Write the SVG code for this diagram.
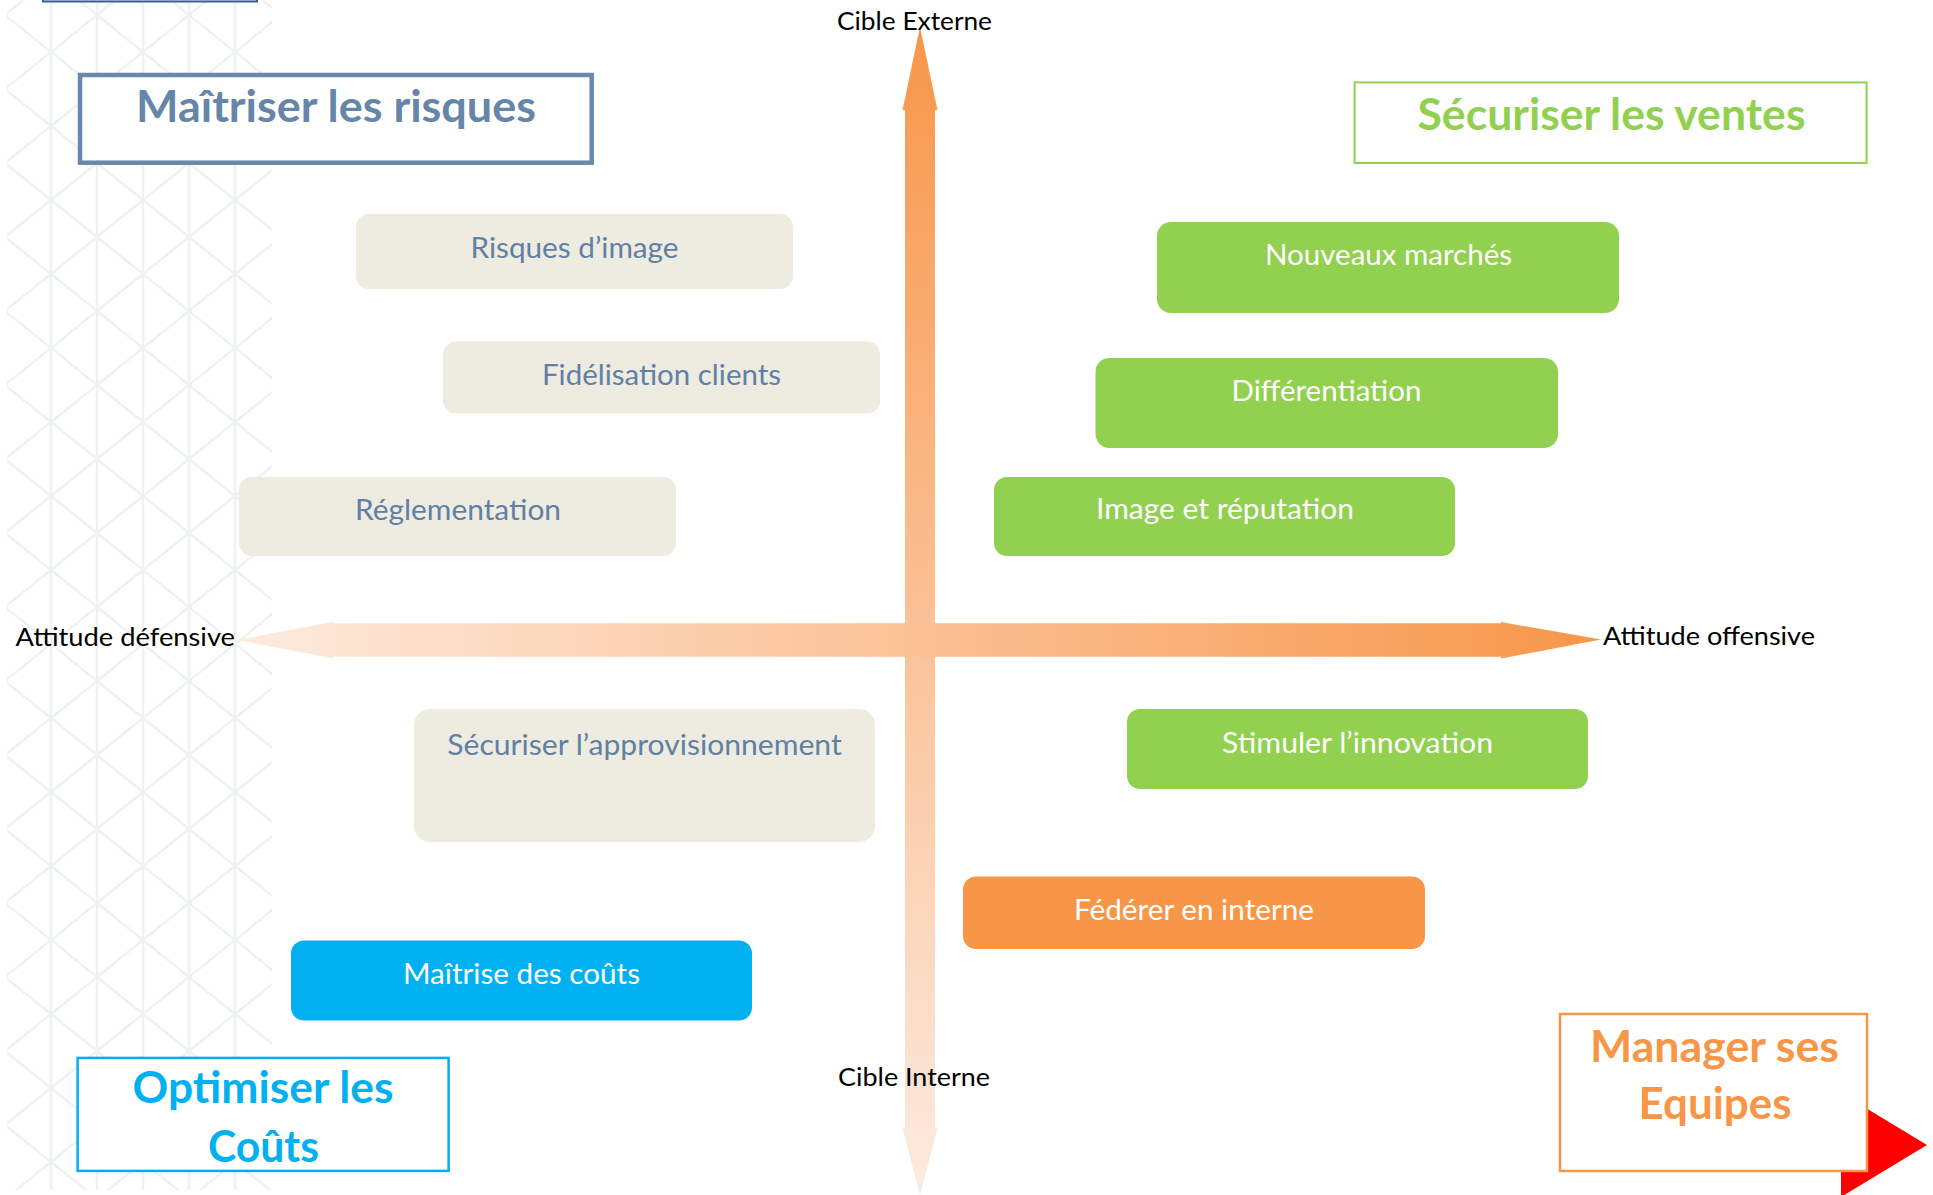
<svg xmlns="http://www.w3.org/2000/svg" width="1933" height="1195" viewBox="0 0 1933 1195">
<defs>
<style>
.nt{font-family:Lato,"Open Sans","Liberation Sans",sans-serif;font-size:28px;text-anchor:middle}
.ttl{font-family:Lato,"Open Sans","Liberation Sans",sans-serif;font-size:43px;font-weight:bold;text-anchor:middle}
.ax{font-family:Lato,"Open Sans","Liberation Sans",sans-serif;font-size:25px;fill:#000}
.beige rect{fill:#eeebe0}
.beige text{fill:#6080a5}
.green rect{fill:#92d050}
.white{fill:#ffffff}
</style>
<pattern id="lattice" patternUnits="userSpaceOnUse" x="51" y="15" width="92" height="74">
<path d="M0 37 L46 0 L92 37 L46 74 Z M0 0 V74 M46 0 V74 M92 0 V74" fill="none" stroke="#e4e9e9" stroke-width="2.5"/>
</pattern>
<linearGradient id="gv" gradientUnits="userSpaceOnUse" x1="0" y1="27" x2="0" y2="1195">
<stop offset="0" stop-color="#f7964a"/>
<stop offset="1" stop-color="#fdebe0"/>
</linearGradient>
<linearGradient id="gh" gradientUnits="userSpaceOnUse" x1="237" y1="0" x2="1601" y2="0">
<stop offset="0" stop-color="#fdebde"/>
<stop offset="1" stop-color="#f7964a"/>
</linearGradient>
</defs>
<rect width="1933" height="1195" fill="#ffffff"/>
<g id="background">
<rect x="7" y="0" width="265" height="1190" fill="url(#lattice)" opacity="0.6"/>
<rect x="43" y="-10" width="214" height="11.5" fill="#dfe6f0" stroke="#3d5f96" stroke-width="2"/>
</g>
<g id="axes">
<path d="M920 27 L937.5 110 L935 110 L935 1128 L937.5 1128 L920 1195 L902.5 1128 L905 1128 L905 110 L902.5 110 Z" fill="url(#gv)"/>
<path d="M237 640 L333 622 L333 623.3 L1501 623.3 L1501 622 L1601 639.5 L1501 658.5 L1501 656.7 L333 656.7 L333 658.3 Z" fill="url(#gh)"/>
</g>
<g id="axis-labels">
<text class="ax" x="914.5" y="30" text-anchor="middle" textLength="155" lengthAdjust="spacingAndGlyphs">Cible Externe</text>
<text class="ax" x="914" y="1086" text-anchor="middle" textLength="152" lengthAdjust="spacingAndGlyphs">Cible Interne</text>
<text class="ax" x="15.5" y="646" textLength="219.5" lengthAdjust="spacingAndGlyphs">Attitude défensive</text>
<text class="ax" x="1603" y="645" textLength="212" lengthAdjust="spacingAndGlyphs">Attitude offensive</text>
</g>
<g id="node-risques-image" class="beige">
<rect x="356" y="214" width="437" height="75" rx="13"/>
<text class="nt" x="574.5" y="258" textLength="208" lengthAdjust="spacingAndGlyphs">Risques d’image</text>
</g>
<g id="node-fidelisation" class="beige">
<rect x="443" y="341.5" width="437" height="72" rx="13"/>
<text class="nt" x="661.5" y="385" textLength="239" lengthAdjust="spacingAndGlyphs">Fidélisation clients</text>
</g>
<g id="node-reglementation" class="beige">
<rect x="239" y="477" width="437" height="79" rx="13"/>
<text class="nt" x="458" y="520" textLength="206" lengthAdjust="spacingAndGlyphs">Réglementation</text>
</g>
<g id="node-approvisionnement" class="beige">
<rect x="414" y="709" width="461" height="133" rx="16"/>
<text class="nt" x="644.5" y="755" textLength="394.5" lengthAdjust="spacingAndGlyphs">Sécuriser l’approvisionnement</text>
</g>
<g id="node-nouveaux-marches" class="green">
<rect x="1157" y="222" width="462" height="91" rx="14"/>
<text class="nt white" x="1388.5" y="265" textLength="247" lengthAdjust="spacingAndGlyphs">Nouveaux marchés</text>
</g>
<g id="node-differentiation" class="green">
<rect x="1095.5" y="358" width="462.5" height="90" rx="14"/>
<text class="nt white" x="1326.5" y="401" textLength="190" lengthAdjust="spacingAndGlyphs">Différentiation</text>
</g>
<g id="node-image-reputation" class="green">
<rect x="994" y="477" width="461" height="79" rx="13"/>
<text class="nt white" x="1225" y="519" textLength="258" lengthAdjust="spacingAndGlyphs">Image et réputation</text>
</g>
<g id="node-stimuler" class="green">
<rect x="1127" y="709" width="461" height="80" rx="13"/>
<text class="nt white" x="1357.5" y="753" textLength="271" lengthAdjust="spacingAndGlyphs">Stimuler l’innovation</text>
</g>
<g id="node-federer">
<rect x="963" y="876.5" width="462" height="72.5" rx="13" fill="#f79646"/>
<text class="nt white" x="1194" y="920" textLength="240" lengthAdjust="spacingAndGlyphs">Fédérer en interne</text>
</g>
<g id="node-maitrise-couts">
<rect x="291" y="940.5" width="461" height="80" rx="13" fill="#00b0f0"/>
<text class="nt white" x="521.5" y="984" textLength="237" lengthAdjust="spacingAndGlyphs">Maîtrise des coûts</text>
</g>
<g id="title-risques">
<rect x="80" y="75" width="511.7" height="87.7" fill="#ffffff" stroke="#6a88ab" stroke-width="4.5"/>
<text class="ttl" x="336" y="122" fill="#6585a9" textLength="400" lengthAdjust="spacingAndGlyphs">Maîtriser les risques</text>
</g>
<g id="title-ventes">
<rect x="1354.6" y="82.4" width="512" height="80.6" fill="#ffffff" stroke="#92d050" stroke-width="2"/>
<text class="ttl" x="1611.5" y="130" fill="#92d050" textLength="388" lengthAdjust="spacingAndGlyphs">Sécuriser les ventes</text>
</g>
<g id="title-couts">
<rect x="77.6" y="1057.9" width="371" height="113" fill="#ffffff" stroke="#00b0f0" stroke-width="2.5"/>
<text class="ttl" x="263" y="1103" fill="#00b0f0" textLength="261" lengthAdjust="spacingAndGlyphs">Optimiser les</text>
<text class="ttl" x="263.5" y="1162" fill="#00b0f0" textLength="111" lengthAdjust="spacingAndGlyphs">Coûts</text>
</g>
<g id="red-triangle">
<path d="M1841 1093 L1927 1145 L1841 1197 Z" fill="#ff0000"/>
</g>
<g id="title-equipes">
<rect x="1560" y="1014" width="307" height="157" fill="#ffffff" stroke="#f79646" stroke-width="2.5"/>
<text class="ttl" x="1714.5" y="1062" fill="#f79646" textLength="249" lengthAdjust="spacingAndGlyphs">Manager ses</text>
<text class="ttl" x="1715" y="1119" fill="#f79646" textLength="153" lengthAdjust="spacingAndGlyphs">Equipes</text>
</g>
</svg>
